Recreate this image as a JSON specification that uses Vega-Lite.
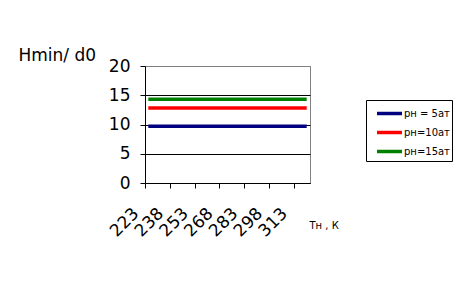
{
  "$schema": "https://vega.github.io/schema/vega-lite/v6.json",
  "width": 165,
  "height": 117,
  "autosize": "none",
  "padding": {"left": 145, "top": 66, "right": 153, "bottom": 117},
  "background": "white",
  "config": {
    "font": "DejaVu Sans",
    "view": {"stroke": "#808080", "strokeWidth": 1}
  },
  "data": {
    "values": [
      {"T": 225, "H": 9.7, "s": "рн = 5ат"},
      {"T": 321, "H": 9.7, "s": "рн = 5ат"},
      {"T": 225, "H": 12.8, "s": "рн=10ат"},
      {"T": 321, "H": 12.8, "s": "рн=10ат"},
      {"T": 225, "H": 14.3, "s": "рн=15ат"},
      {"T": 321, "H": 14.3, "s": "рн=15ат"}
    ]
  },
  "mark": {"type": "line", "strokeWidth": 3.5},
  "encoding": {
    "x": {
      "field": "T",
      "type": "quantitative",
      "scale": {"domain": [223, 323], "nice": false, "zero": false},
      "axis": {
        "values": [223, 238, 253, 268, 283, 298, 313],
        "title": "Тн , К",
        "titleFontSize": 10,
        "titleFontWeight": "normal",
        "titleColor": "black",
        "titleX": 164,
        "titleY": 45,
        "titleAlign": "left",
        "titleBaseline": "alphabetic",
        "titleAnchor": "start",
        "labelAngle": -45,
        "labelFontSize": 17,
        "labelColor": "black",
        "labelOverlap": false,
        "labelOffset": -15,
        "labelPadding": 17,
        "grid": false,
        "domainColor": "black",
        "tickColor": "black",
        "tickSize": 5
      }
    },
    "y": {
      "field": "H",
      "type": "quantitative",
      "scale": {"domain": [0, 20], "nice": false},
      "axis": {
        "values": [0, 5, 10, 15, 20],
        "title": "Hmin/ d0",
        "titleFontSize": 17,
        "titleFontWeight": "normal",
        "titleColor": "black",
        "titleAngle": 0,
        "titleX": -127,
        "titleY": -6,
        "titleAlign": "left",
        "titleBaseline": "alphabetic",
        "labelFontSize": 17,
        "labelColor": "black",
        "labelPadding": 10,
        "labelBaseline": "middle",
        "grid": true,
        "gridColor": {"condition": {"test": "datum.value == 20", "value": "#808080"}, "value": "black"},
        "gridOpacity": 1,
        "domainColor": "black",
        "tickColor": "black",
        "tickSize": 5
      }
    },
    "color": {
      "field": "s",
      "type": "nominal",
      "sort": ["рн = 5ат", "рн=10ат", "рн=15ат"],
      "scale": {"domain": ["рн = 5ат", "рн=10ат", "рн=15ат"], "range": ["#000080", "#ff0000", "#008000"]},
      "legend": {
        "title": null,
        "orient": "none",
        "legendX": 221,
        "legendY": 34,
        "strokeColor": "black",
        "fillColor": "white",
        "padding": 2,
        "symbolType": "M-1,0H1.63",
        "symbolSize": 361,
        "symbolStrokeWidth": 3.5,
        "symbolOffset": 7,
        "labelFontSize": 10,
        "labelColor": "black",
        "labelOffset": 6,
        "rowPadding": 0
      }
    }
  }
}
